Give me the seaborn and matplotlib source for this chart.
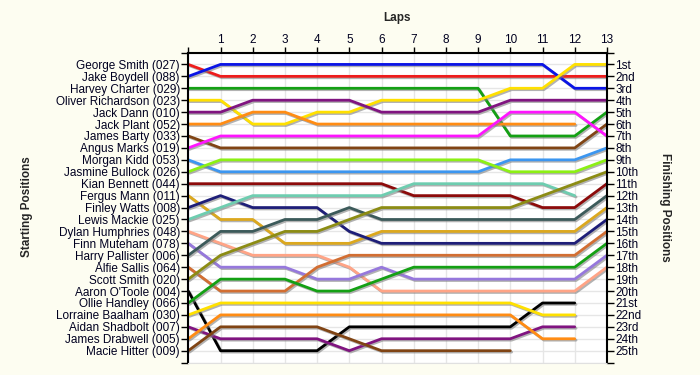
import pandas as pd
import matplotlib.pyplot as plt
import matplotlib.patheffects as pe
import seaborn as sns

# drivers in starting order, with their line colours
drivers = ["George Smith (027)", "Jake Boydell (088)", "Harvey Charter (029)",
           "Oliver Richardson (023)", "Jack Dann (010)", "Jack Plant (052)",
           "James Barty (033)", "Angus Marks (019)", "Morgan Kidd (053)",
           "Jasmine Bullock (026)", "Kian Bennett (044)", "Fergus Mann (011)",
           "Finley Watts (008)", "Lewis Mackie (025)", "Dylan Humphries (048)",
           "Finn Muteham (078)", "Harry Pallister (006)", "Alfie Sallis (064)",
           "Scott Smith (020)", "Aaron O'Toole (004)", "Ollie Handley (066)",
           "Lorraine Baalham (030)", "Aidan Shadbolt (007)", "James Drabwell (005)",
           "Macie Hitter (009)"]
colors = ["#EE1C1C", "#0A14E6", "#14A014", "#FFE000", "#801480", "#FF8C14",
          "#804414", "#FF14FF", "#3C96F0", "#8CF014", "#8C0A0A", "#DCA81E",
          "#1E1E78", "#6ECDB0", "#FFA486", "#9678DC", "#3C5A5A", "#D26E32",
          "#8C8C14", "#000000", "#14A014", "#FFE000", "#801480", "#FF8C14",
          "#804414"]

# position at each lap (lap 0 = grid)
lap_positions = [
    [1, 2, 2, 2, 2, 2, 2, 2, 2, 2, 2, 2, 2, 2],
    [2, 1, 1, 1, 1, 1, 1, 1, 1, 1, 1, 1, 3, 3],
    [3, 3, 3, 3, 3, 3, 3, 3, 3, 3, 7, 7, 7, 5],
    [4, 4, 6, 6, 5, 5, 4, 4, 4, 4, 3, 3, 1, 1],
    [5, 5, 4, 4, 4, 4, 5, 5, 5, 5, 4, 4, 4, 4],
    [6, 6, 5, 5, 6, 6, 6, 6, 6, 6, 6, 6, 6],
    [7, 8, 8, 8, 8, 8, 8, 8, 8, 8, 8, 8, 8, 6],
    [8, 7, 7, 7, 7, 7, 7, 7, 7, 7, 5, 5, 5, 7],
    [9, 10, 10, 10, 10, 10, 10, 10, 10, 10, 9, 9, 9, 8],
    [10, 9, 9, 9, 9, 9, 9, 9, 9, 9, 10, 10, 10, 9],
    [11, 11, 11, 11, 11, 11, 11, 12, 12, 12, 12, 13, 13, 11],
    [12, 14, 14, 16, 16, 16, 15, 15, 15, 15, 15, 15, 15, 13],
    [13, 12, 13, 13, 13, 15, 16, 16, 16, 16, 16, 16, 16, 14],
    [14, 13, 12, 12, 12, 12, 12, 11, 11, 11, 11, 11, 12],
    [15, 16, 17, 17, 17, 18, 20, 20, 20, 20, 20, 20, 20, 18],
    [16, 18, 18, 18, 19, 19, 18, 19, 19, 19, 19, 19, 19, 17],
    [17, 15, 15, 14, 14, 13, 14, 14, 14, 14, 14, 14, 14, 12],
    [18, 20, 20, 20, 18, 17, 17, 17, 17, 17, 17, 17, 17, 15],
    [19, 17, 16, 15, 15, 14, 13, 13, 13, 13, 13, 12, 11, 10],
    [20, 25, 25, 25, 25, 23, 23, 23, 23, 23, 23, 21, 21],
    [21, 19, 19, 19, 20, 20, 19, 18, 18, 18, 18, 18, 18, 16],
    [22, 21, 21, 21, 21, 21, 21, 21, 21, 21, 21, 22, 22],
    [23, 24, 24, 24, 24, 25, 24, 24, 24, 24, 24, 23, 23],
    [24, 22, 22, 22, 22, 22, 22, 22, 22, 22, 22, 24, 24],
    [25, 23, 23, 23, 23, 24, 25, 25, 25, 25, 25],
]

laps = list(range(0, 14))
finish_labels = ["1st", "2nd", "3rd"] + [f"{i}th" for i in range(4, 21)] + \
                ["21st", "22nd", "23rd", "24th", "25th"]

rows = []
for name, pos in zip(drivers, lap_positions):
    for lap, p in enumerate(pos):
        rows.append({"driver": name, "lap": lap, "position": p})
df = pd.DataFrame(rows)

sns.set_style("white")
plt.rcParams['font.family'] = ['Liberation Sans', 'DejaVu Sans']

txt_color = "#000020"
fig = plt.figure(figsize=(7, 3.75), dpi=100, facecolor="#FDFDF1")
ax = fig.add_axes([0.269, 0.033, 0.598, 0.827])
ax.set_facecolor("white")

sns.lineplot(data=df, x="lap", y="position", hue="driver", hue_order=drivers,
             palette=colors, sort=False, linewidth=2, legend=False, ax=ax)
for line in ax.lines:
    line.set_path_effects([pe.SimpleLineShadow(offset=(1, -1), shadow_color="gray", alpha=0.6),
                           pe.Normal()])

ax.set_xlim(0, 13)
ax.set_ylim(26, 0)
ax.set_xlabel("")
ax.set_ylabel("")

ax.xaxis.tick_top()
ax.set_xticks(laps)
ax.set_xticklabels([""] + [str(l) for l in laps[1:]], fontsize=8.5, color=txt_color)
ax.set_yticks(range(0, 27))
ax.set_yticklabels([""] + drivers + [""], fontsize=8.5, color=txt_color)
ax.tick_params(axis="x", length=4, width=1, pad=1, color="black")
ax.tick_params(axis="y", length=5, width=1, pad=1, color="black")
ax.grid(True, color="#E6E6E6", linewidth=1)
ax.set_axisbelow(True)

for s in ["left", "top", "right"]:
    ax.spines[s].set_color("black")
    ax.spines[s].set_linewidth(1.5)
ax.spines["bottom"].set_color("#E0E0E0")

ax2 = ax.twinx()
ax2.set_ylim(26, 0)
ax2.set_yticks(range(0, 27))
ax2.set_yticklabels([""] + finish_labels + [""], fontsize=8.5, color=txt_color)
ax2.tick_params(axis="y", length=5, width=1, pad=1, color="black")
for s in ["left", "top", "right", "bottom"]:
    ax2.spines[s].set_visible(False)
ax2.grid(False)

fig.text(397 / 700, 1 - 18 / 375, "Laps", ha="center", va="center",
         fontsize=8.5, fontweight="bold")
fig.text(27 / 700, 1 - 207 / 375, "Starting Positions", ha="center", va="center",
         rotation=90, fontsize=8.5, fontweight="bold")
fig.text(665 / 700, 1 - 207 / 375, "Finishing Positions", ha="center", va="center",
         rotation=270, fontsize=8.5, fontweight="bold")

fig.savefig("out.png", dpi=100, facecolor=fig.get_facecolor())
